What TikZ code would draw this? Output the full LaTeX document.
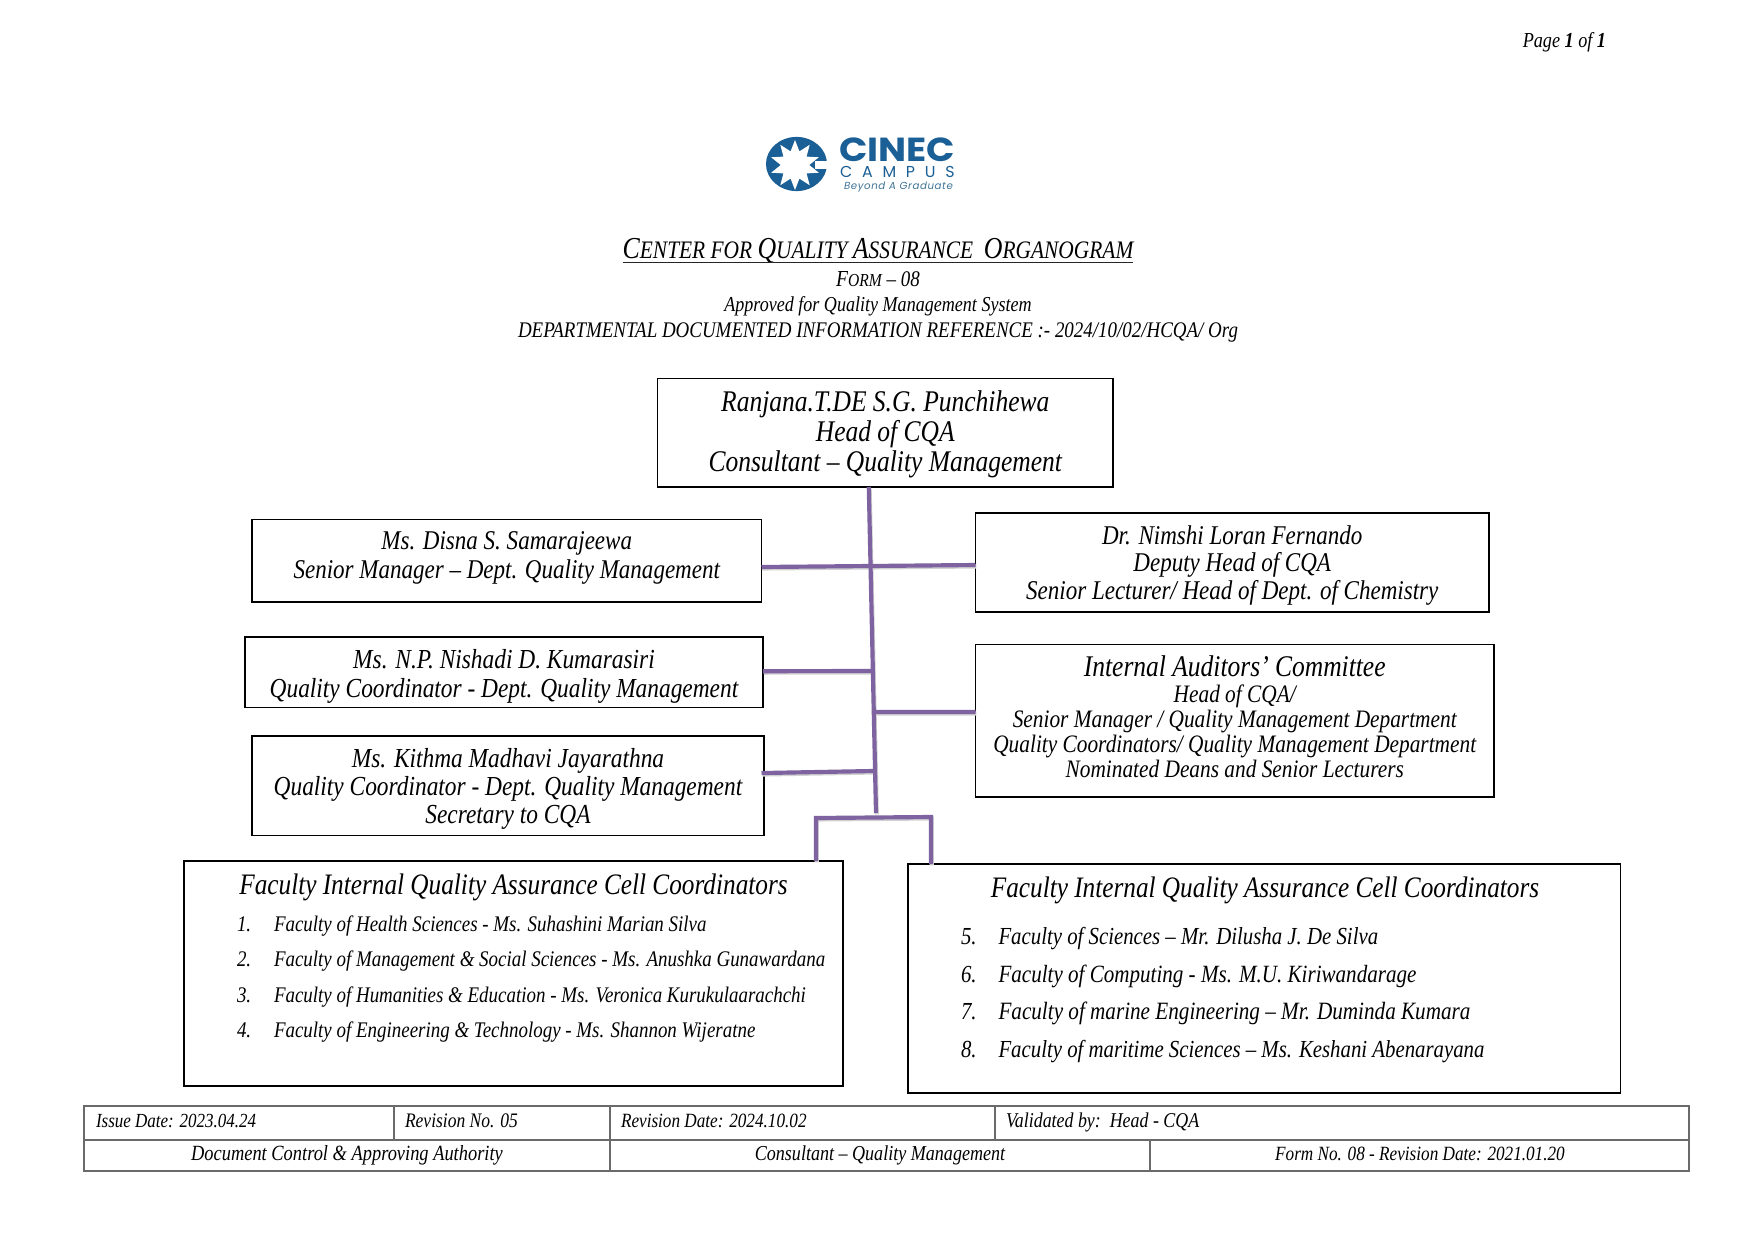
\documentclass[tikz,border=0pt]{standalone}
\usepackage{fontspec}
\setmainfont{Liberation Serif}[FakeStretch=0.85]
\newfontfamily\logofont{Poppins}[FakeStretch=1.12]
\newfontfamily\logowide{Poppins}[LetterSpace=62]
\newfontfamily\logomotto{Poppins}[LetterSpace=6]
\usetikzlibrary{shapes.geometric}
\definecolor{conn}{HTML}{7F63A1}
\definecolor{logoblue}{HTML}{1A5F96}
\definecolor{mottoc}{HTML}{3F7396}
\definecolor{cellgrey}{HTML}{6A6A6A}
\tikzset{
  orgbox/.style={draw=black,line width=0.7pt,fill=white,align=center,inner sep=0pt,outer sep=0pt},
  cell/.style={draw=cellgrey,line width=0.6pt,inner sep=0pt,outer sep=0pt},
  link/.style={draw=conn,line width=2pt},
  linkshade/.style={draw=black!18,line width=2pt,transform canvas={xshift=0.4pt,yshift=-0.7pt}},
  lab/.style={inner sep=0pt,outer sep=0pt},
  pl/.style={lab,font=\fontsize{14.26}{14.5}\selectfont\itshape},
  head/.style={lab,align=center,font=\fontsize{10.7}{12}\selectfont\itshape},
  tab/.style={lab,anchor=base west,font=\fontsize{10.4}{12}\selectfont\itshape},
  itemA/.style={lab,anchor=base west,font=\fontsize{10.7}{12}\selectfont\itshape},
  itemB/.style={lab,anchor=base west,font=\fontsize{11.75}{13}\selectfont\itshape},
}
\newcommand\bx[7][]{\node[orgbox,minimum width={(#5-#3)*0.48pt},minimum height={(#6-#4)*0.48pt},#1] (#2) at ({(#3+#5)/2},{(#4+#6)/2}) {#7};}
\newcommand\tc[5]{\node[cell,minimum width={(#4-#2)*0.48pt},minimum height={(#5-#3)*0.48pt}] (#1) at ({(#2+#4)/2},{(#3+#5)/2}) {};}
\newcommand\scp[2]{{\fontsize{14.6}{15}\selectfont #1}#2}
\newcommand\dn[1]{\rule{0pt}{#1}}
\newcommand\upp[1]{\rule[-#1]{0pt}{#1}}
\begin{document}
\begin{tikzpicture}[x=0.48pt,y=-0.48pt]
\useasboundingbox (0,0) rectangle (1755,1241);
\fill[white] (0,0) rectangle (1755,1241);

\node[lab,anchor=east,font=\fontsize{10.25}{12}\selectfont\itshape] (page) at (1606,42) {Page \textbf{1} of \textbf{1}};

% logo
\node[ellipse,fill=logoblue,minimum width=29.3pt,minimum height=26pt,inner sep=0pt] (logoc) at (796.5,164) {};
\node[star,star points=10,star point ratio=1.75,fill=white,minimum size=24pt,inner sep=0pt] (logos) at (795,165) {};
\node[rectangle,fill=white,minimum width=6.5pt,minimum height=3.4pt,inner sep=0pt,anchor=east] (logon) at (829,165) {};
\node[lab,anchor=west,text=logoblue,font=\logofont\bfseries\fontsize{16}{16}\selectfont] (cinec) at (839,150) {CINEC};
\node[lab,anchor=west,text=logoblue,font=\logowide\fontsize{7.6}{8}\selectfont] (campus) at (840,172) {CAMPUS};
\node[lab,anchor=west,text=mottoc,font=\logomotto\itshape\fontsize{4.9}{6}\selectfont] (motto) at (844,187.5) {Beyond A Graduate};

% heading
\node[lab,anchor=base,font=\fontsize{12.08}{13}\selectfont\itshape] (title) at (878,258)
 {\scp{C}{ENTER FOR} \scp{Q}{UALITY} \scp{A}{SSURANCE}\ \ \scp{O}{RGANOGRAM}};
\draw[black!85,line width=0.75pt] ([yshift=-2.2pt]title.base west) -- ([yshift=-2.2pt]title.base east);
\node[head] (form) at (878,279) {{\fontsize{11}{12}\selectfont F}{\fontsize{8.8}{12}\selectfont ORM} – 08};
\node[head,font=\fontsize{10.2}{12}\selectfont\itshape] (appr) at (878,306) {Approved for Quality Management System};
\node[head] (ref) at (878,332) {DEPARTMENTAL DOCUMENTED INFORMATION REFERENCE :- 2024/10/02/HCQA/ Org};

% boxes
\bx[font=\fontsize{14.4}{14.4}\selectfont\itshape]{top}{657.5}{378.5}{1113}{487}{\dn{11.4pt}Ranjana.T.DE S.G. Punchihewa\\Head of CQA\\Consultant – Quality Management}
\bx[font=\fontsize{13}{13.6}\selectfont\itshape]{la}{252}{519.5}{761.5}{602}{Ms. Disna S. Samarajeewa\\\upp{5.4pt}Senior Manager – Dept. Quality Management}
\bx[font=\fontsize{13.2}{13.6}\selectfont\itshape]{lb}{245}{637}{763}{707.5}{\dn{13.3pt}Ms. N.P. Nishadi D. Kumarasiri\\Quality Coordinator - Dept. Quality Management}
\bx[font=\fontsize{13.2}{13.4}\selectfont\itshape]{lc}{252}{736}{764}{835.5}{\dn{12.5pt}Ms. Kithma Madhavi Jayarathna\\Quality Coordinator - Dept. Quality Management\\Secretary to CQA}
\bx[font=\fontsize{13}{13.2}\selectfont\itshape]{ra}{975.5}{513}{1489}{612}{\dn{11.5pt}Dr. Nimshi Loran Fernando\\Deputy Head of CQA\\Senior Lecturer/ Head of Dept. of Chemistry}
\bx[font=\fontsize{12.05}{12}\selectfont\itshape]{rb}{975.5}{644.5}{1494}{797}{{\fontsize{14.4}{14}\selectfont Internal Auditors’ Committee}\\[0.8pt]Head of CQA/\\Senior Manager / Quality Management Department\\Quality Coordinators/ Quality Management Department\\\upp{4pt}Nominated Deans and Senior Lecturers}
\bx{fa}{184}{861}{843}{1086}{}
\bx{fb}{908}{864}{1620.5}{1093}{}

\node[pl] (fat) at (513.5,887) {Faculty Internal Quality Assurance Cell Coordinators};
\node[pl] (fbt) at (1265,890) {Faculty Internal Quality Assurance Cell Coordinators};

\node[itemA] (a1n) at (237,931) {1.};
\node[itemA] (a1) at (274,931) {Faculty of Health Sciences - Ms. Suhashini Marian Silva};
\node[itemA] (a2n) at (237,966.5) {2.};
\node[itemA] (a2) at (274,966.5) {Faculty of Management \& Social Sciences - Ms. Anushka Gunawardana};
\node[itemA] (a3n) at (237,1002) {3.};
\node[itemA] (a3) at (274,1002) {Faculty of Humanities \& Education - Ms. Veronica Kurukulaarachchi};
\node[itemA] (a4n) at (237,1037) {4.};
\node[itemA] (a4) at (274,1037) {Faculty of Engineering \& Technology - Ms. Shannon Wijeratne};

\node[itemB] (b5n) at (961,944) {5.};
\node[itemB] (b5) at (998.5,944) {Faculty of Sciences – Mr. Dilusha J. De Silva};
\node[itemB] (b6n) at (961,982) {6.};
\node[itemB,font=\fontsize{11.9}{13}\selectfont\itshape] (b6) at (998.5,982) {Faculty of Computing - Ms. M.U. Kiriwandarage};
\node[itemB] (b7n) at (961,1019) {7.};
\node[itemB,font=\fontsize{11.95}{13}\selectfont\itshape] (b7) at (998.5,1019) {Faculty of marine Engineering – Mr. Duminda Kumara};
\node[itemB] (b8n) at (961,1057) {8.};
\node[itemB] (b8) at (998.5,1057) {Faculty of maritime Sciences – Ms. Keshani Abenarayana};

% connectors
\coordinate (trunkend) at (876,813);
\coordinate (ja) at (870.5,566);
\coordinate (jb) at (872,671);
\coordinate (jr) at (875,712);
\coordinate (jc) at (873.5,771);
\coordinate (bl) at (816,818);
\coordinate (br) at (931,817);
\foreach \st in {linkshade,link}{
  \draw[\st] ([xshift=-7.9pt]top.south) -- (trunkend);
  \draw[\st] ([yshift=-3pt]la.east) -- (ja) -- ([yshift=-1.2pt]ra.west);
  \draw[\st] ([yshift=0.5pt]lb.east) -- (jb);
  \draw[\st] (jr) -- ([yshift=4.2pt]rb.west);
  \draw[\st] ([yshift=6.1pt,xshift=-1.2pt]lc.east) -- (jc);
  \draw[\st] ([xshift=-13pt]fa.north east) -- (bl) -- (br) -- ([xshift=11pt]fb.north west);
}

% footer table
\tc{c1}{84}{1106}{394}{1140}
\tc{c2}{394}{1106}{610}{1140}
\tc{c3}{610}{1106}{995}{1140}
\tc{c4}{995}{1106}{1689}{1140}
\tc{d1}{84}{1140}{610}{1171}
\tc{d2}{610}{1140}{1150}{1171}
\tc{d3}{1150}{1140}{1689}{1171}
\node[tab,font=\fontsize{9.6}{12}\selectfont\itshape] (t1) at (96,1127) {Issue Date: 2023.04.24};
\node[tab,font=\fontsize{9.9}{12}\selectfont\itshape] (t2) at (405,1127) {Revision No. 05};
\node[tab,font=\fontsize{9.7}{12}\selectfont\itshape] (t3) at (621,1127) {Revision Date: 2024.10.02};
\node[tab,font=\fontsize{10.1}{12}\selectfont\itshape] (t4) at (1006,1127) {Validated by:\ \ Head - CQA};
\node[tab,anchor=base] (t5) at (347,1160.5) {Document Control \& Approving Authority};
\node[tab,anchor=base,font=\fontsize{10.2}{12}\selectfont\itshape] (t6) at (880,1160.5) {Consultant – Quality Management};
\node[tab,anchor=base,font=\fontsize{9.7}{12}\selectfont\itshape] (t7) at (1420,1160.5) {Form No. 08 - Revision Date: 2021.01.20};
\end{tikzpicture}
\end{document}
